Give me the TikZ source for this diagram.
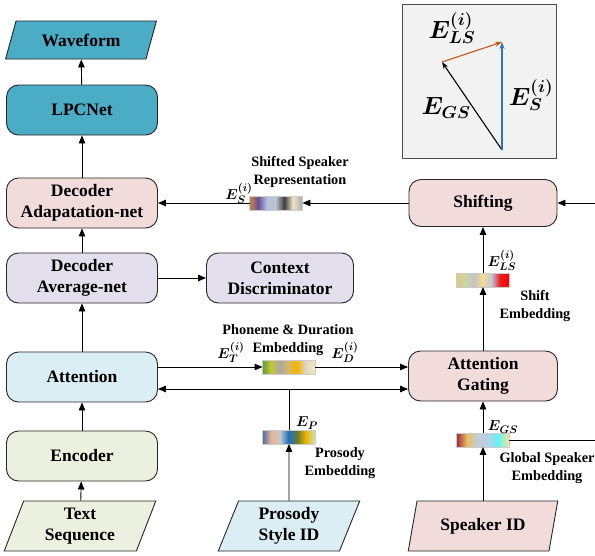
\documentclass[tikz,border=0pt]{standalone}
\usepackage{fontspec}
\setmainfont{Liberation Serif}
\usetikzlibrary{arrows.meta,positioning,calc,shapes.geometric}

\definecolor{tealbox}{HTML}{4BACC6}
\definecolor{pinkbox}{HTML}{F2DCDB}
\definecolor{lavbox}{HTML}{E4DFEC}
\definecolor{bluebox}{HTML}{DAEEF3}
\definecolor{greenbox}{HTML}{EBF1DE}
\definecolor{insetbg}{HTML}{F2F2F2}
\definecolor{vecorange}{HTML}{C55A11}
\definecolor{vecblue}{HTML}{2E75B6}
% embedding bar colours
\definecolor{s1}{HTML}{C9893A}\definecolor{s2}{HTML}{6B4E9B}\definecolor{s3}{HTML}{B7C2E0}
\definecolor{s4}{HTML}{B8C4CC}\definecolor{s5}{HTML}{404040}\definecolor{s6}{HTML}{F0E4C8}
\definecolor{s7}{HTML}{ADADAD}
\definecolor{l1}{HTML}{E2C878}\definecolor{l2}{HTML}{C9D7A8}\definecolor{l3}{HTML}{C4C4C4}
\definecolor{l4}{HTML}{F6DA90}\definecolor{l5}{HTML}{BFC8DA}\definecolor{l6}{HTML}{E82020}
\definecolor{l7}{HTML}{FF0000}
\definecolor{d1}{HTML}{5FA040}\definecolor{d2}{HTML}{C9C530}\definecolor{d3}{HTML}{A8A8A8}
\definecolor{d4}{HTML}{D9B860}\definecolor{d5}{HTML}{F5B400}\definecolor{d6}{HTML}{D8D8D8}
\definecolor{d7}{HTML}{FCE4A0}
\definecolor{p1}{HTML}{4A70A0}\definecolor{p2}{HTML}{E8B498}\definecolor{p3}{HTML}{C8C8C8}
\definecolor{p4}{HTML}{1E6FC0}\definecolor{p5}{HTML}{6A7A30}\definecolor{p6}{HTML}{F2B400}
\definecolor{p7}{HTML}{C8E4B4}
\definecolor{g1}{HTML}{A02840}\definecolor{g2}{HTML}{E6C060}\definecolor{g3}{HTML}{C4CCDC}
\definecolor{g4}{HTML}{B8D0E8}\definecolor{g5}{HTML}{60F4F4}\definecolor{g6}{HTML}{F8E29A}

\newcommand\boxfnt{\fontsize{17.5}{21}\selectfont\bfseries}
\newcommand\lblfnt{\fontsize{14.3}{18.5}\selectfont\bfseries}
\newcommand\symfnt{\fontsize{15}{17}\selectfont\boldmath}
\newcommand\bigsymfnt{\fontsize{24}{28}\selectfont\boldmath}

% #1 bar node, #2 number of segments, #3 colour pairs
\newcommand\shadebar[3]{%
  \foreach \ca/\cb [count=\k] in {#3}
    \shade[left color=\ca,right color=\cb]
      ([xshift={(\k-1)*52pt/#2}]#1.south west) rectangle ([xshift={\k*52pt/#2},yshift=13pt]#1.south west);
  \draw[gray!40,line width=0.6pt] (#1.south west) rectangle (#1.north east);}

\begin{document}
\begin{tikzpicture}[x=1pt,y=1pt,>={Triangle[length=8pt,width=6.5pt]},line width=0.9pt,
 blk/.style={draw=black!85,rounded corners=12pt,minimum width=151pt,minimum height=50pt,align=center,font=\boxfnt},
 inout/.style={trapezium,trapezium left angle=72,trapezium right angle=108,trapezium stretches=true,
   draw=black!85,minimum width=152pt,minimum height=50pt,align=center,font=\boxfnt,inner sep=1pt},
 emb/.style={minimum width=52pt,minimum height=13pt,inner sep=0pt},
 lbl/.style={font=\lblfnt,align=center},
 sym/.style={font=\symfnt,inner sep=0pt},
 bigsym/.style={font=\bigsymfnt,inner sep=0pt},
 vec/.style={-{Stealth[length=7pt,width=5pt]},line width=1.1pt}]
\useasboundingbox (0,0) rectangle (595,-555);

% left column
\node[inout,fill=tealbox,minimum height=38pt,trapezium left angle=66,trapezium right angle=114] (wave) at (81,-40) {Waveform};
\node[blk,fill=tealbox] (lpc) at (82,-110) {LPCNet};
\node[blk,fill=pinkbox] (dadapt) at (82,-203) {Decoder\\Adapatation-net};
\node[blk,fill=lavbox] (davg) at (82,-278) {Decoder\\Average-net};
\node[blk,fill=lavbox,minimum width=147pt] (disc) at (280,-278) {Context\\Discriminator};
\node[blk,fill=bluebox] (att) at (82,-377) {Attention};
\node[blk,fill=greenbox] (enc) at (82,-456) {Encoder};
\node[inout,fill=greenbox] (text) at (80,-526) {Text\\Sequence};

% right column
\node[blk,fill=pinkbox,minimum width=148pt,minimum height=47pt] (shift) at (483,-203) {Shifting};
\node[blk,fill=pinkbox,minimum width=149pt] (gate) at (483,-376) {Attention\\Gating};
\node[inout,fill=bluebox,minimum width=142pt] (pstyle) at (289,-526) {Prosody\\Style ID};
\node[inout,fill=pinkbox,minimum width=150pt] (spk) at (483,-526) {Speaker ID};

% embedding bars
\node[emb] (sbar) at (276,-203) {};
\node[emb] (lsbar) at (483,-280) {};
\node[emb] (pdbar) at (289,-367) {};
\node[emb] (pbar) at (289,-437) {};
\node[emb] (gsbar) at (483,-440) {};
\shadebar{sbar}{6}{s1/s2,s2/s3,s3/s4,s4/s5,s5/s6,s6/s7}
\shadebar{lsbar}{6}{l1/l2,l2/l3,l3/l4,l4/l5,l5/l6,l6/l7}
\shadebar{pdbar}{6}{d1/d2,d2/d3,d3/d4,d4/d5,d5/d6,d6/d7}
\shadebar{pbar}{6}{p1/p2,p2/p3,p3/p4,p4/p5,p5/p6,p6/p7}
\shadebar{gsbar}{5}{g1/g2,g2/g3,g3/g4,g4/g5,g5/g6}

% labels
\node[lbl] (sbarlbl) at (300,-172) {Shifted Speaker\\Representation};
\node[sym] (essym) at (239,-193) {$E_S^{(i)}$};
\node[sym] (elssym) at (502,-260) {$E_{LS}^{(i)}$};
\node[lbl] (lsbarlbl) at (535,-306) {Shift\\Embedding};
\node[lbl] (pdlbl) at (288,-340) {Phoneme \& Duration\\Embedding};
\node[sym] (etsym) at (231,-352) {$E_T^{(i)}$};
\node[sym] (edsym) at (345,-352) {$E_D^{(i)}$};
\node[sym] (epsym) at (307,-423) {$E_P$};
\node[lbl] (plbl) at (340,-463) {Prosody\\Embedding};
\node[sym] (egssym) at (503,-427) {$E_{GS}$};
\node[lbl] (gslbl) at (547,-468) {Global Speaker\\Embedding};

% connectors
\draw[->] (lpc) -- (wave);
\draw[->] (dadapt) -- (lpc);
\draw[->] (davg) -- (dadapt);
\draw[->] (davg) -- (disc);
\draw[->] (att) -- (davg);
\draw[->] (enc) -- (att);
\draw[->] (text) -- (enc);
\draw[->] (shift) -- (sbar);
\draw[->] (sbar) -- (dadapt);
\draw[->] (gate) -- (lsbar);
\draw[->] (lsbar) -- (shift);
\draw[->] (att.east |- pdbar) -- (pdbar.west);
\draw[->] (pdbar.east) -- (gate.west |- pdbar);
\coordinate (pjoin) at (289,-389);
\draw (pbar) -- (pjoin);
\draw[->] (pjoin) -- (att.east |- pjoin);
\draw[->] (pjoin) -- (gate.west |- pjoin);
\draw[->] (pstyle) -- (pbar);
\draw[->] (spk.north -| gsbar) -- (gsbar);
\draw[->] (gsbar) -- (gate);
\coordinate (rin) at (595,-203);
\draw[->] (rin) -- (shift);
\coordinate (rout) at (595,-440);
\draw (gsbar) -- (rout);

% inset: vector sum
\draw[fill=insetbg,draw=black!70,line width=0.8pt] (402,-4) rectangle (556,-158);
\coordinate (vo) at (502,-150);
\coordinate (vg) at (442,-62);
\coordinate (vs) at (502,-42);
\draw[vec] (vo) -- (vg);
\draw[vec,vecorange] (vg) -- (vs);
\draw[vec,vecblue] (vo) -- (vs);
\node[bigsym] (lslbl) at (452,-28) {$E_{LS}^{(i)}$};
\node[bigsym] (gslbl2) at (446,-108) {$E_{GS}$};
\node[bigsym] (slbl) at (531,-95) {$E_S^{(i)}$};
\end{tikzpicture}
\end{document}
